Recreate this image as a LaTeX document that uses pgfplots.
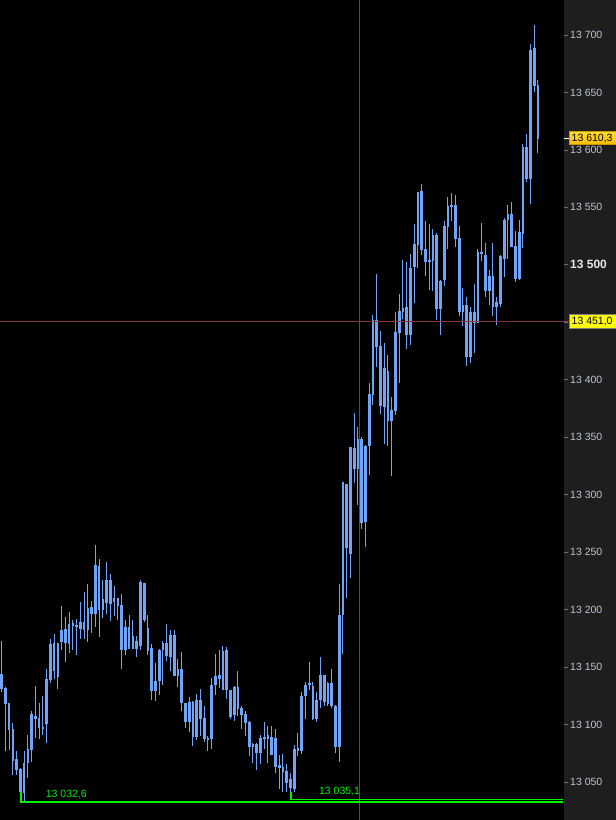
\documentclass[border=0pt]{standalone}
\usepackage{pgfplots}
\pgfplotsset{compat=1.18}
\usepackage{pgfplotstable}
\usepackage{fontspec}
\setmainfont{Liberation Sans}
\definecolor{candle}{RGB}{112,164,248}
\definecolor{panel}{RGB}{30,30,30}
\definecolor{labelgray}{RGB}{188,198,214}
\definecolor{boldlabel}{RGB}{228,232,240}
\definecolor{tickgray}{RGB}{110,110,110}
\definecolor{cross}{RGB}{140,55,55}
\definecolor{lowgreen}{RGB}{0,240,0}
\pgfplotstableread{
i h l bt bb
0 13172.8 13128.7 13144.1 13131.1
1 13133.1 13077.4 13131.1 13118.6
2 13118.9 13078.0 13118.6 13095.4
3 13101.5 13056.2 13095.4 13068.4
4 13077.4 13056.2 13069.3 13060.6
5 13062.3 13039.0 13060.6 13041.7
6 13077.1 13033.5 13065.8 13041.2
7 13091.0 13053.1 13078.6 13067.0
8 13111.6 13067.3 13108.7 13078.6
9 13134.0 13088.4 13107.3 13105.0
10 13118.9 13087.6 13105.0 13097.4
11 13125.0 13091.3 13097.7 13096.3
12 13148.2 13084.1 13138.9 13100.6
13 13174.6 13136.6 13170.2 13138.9
14 13179.2 13140.1 13170.8 13147.0
15 13171.4 13131.1 13170.8 13141.5
16 13203.3 13164.7 13181.8 13172.2
17 13193.4 13154.0 13183.0 13171.4
18 13198.1 13162.4 13187.0 13170.8
19 13191.1 13165.0 13187.6 13186.5
20 13192.0 13160.6 13185.9 13185.3
21 13207.0 13174.6 13189.4 13184.1
22 13215.7 13174.6 13188.8 13182.4
23 13222.7 13172.2 13201.2 13182.4
24 13207.6 13179.5 13201.5 13196.3
25 13256.3 13185.3 13238.1 13196.6
26 13244.2 13176.6 13238.1 13199.8
27 13226.2 13193.1 13209.1 13200.4
28 13241.3 13196.3 13225.6 13206.2
29 13231.4 13190.5 13225.3 13205.6
30 13220.4 13194.6 13209.9 13207.0
31 13209.7 13191.1 13209.9 13203.3
32 13213.7 13148.8 13203.9 13165.0
33 13191.1 13160.9 13184.7 13165.6
34 13195.4 13165.6 13184.7 13166.4
35 13191.1 13166.4 13176.6 13166.4
36 13177.2 13158.6 13172.2 13166.4
37 13225.9 13165.0 13223.6 13169.0
38 13223.6 13189.6 13223.0 13191.7
39 13195.5 13160.6 13183.9 13164.4
40 13170.2 13121.5 13166.5 13129.6
41 13154.0 13120.9 13137.4 13129.6
42 13165.9 13125.8 13164.4 13138.3
43 13172.8 13134.6 13170.2 13165.0
44 13187.6 13155.7 13170.2 13159.8
45 13182.4 13147.0 13177.2 13159.2
46 13182.4 13141.8 13177.2 13142.4
47 13157.2 13133.1 13147.6 13142.4
48 13163.3 13112.2 13148.2 13119.2
49 13118.6 13096.8 13118.6 13102.7
50 13123.8 13094.0 13119.2 13102.7
51 13120.1 13081.8 13119.2 13089.6
52 13126.7 13086.7 13120.9 13089.6
53 13131.1 13089.6 13120.9 13105.3
54 13116.3 13085.3 13105.3 13088.2
55 13090.2 13077.4 13087.6 13086.7
56 13140.6 13078.9 13134.3 13087.6
57 13161.5 13125.9 13141.8 13134.6
58 13165.0 13131.7 13142.4 13140.4
59 13168.5 13130.8 13163.6 13130.8
60 13167.3 13122.1 13164.4 13130.2
61 13129.6 13104.7 13129.3 13107.0
62 13133.1 13103.5 13132.2 13108.5
63 13147.0 13107.0 13132.2 13114.2
64 13116.3 13096.0 13114.2 13108.5
65 13112.2 13090.5 13109.0 13101.8
66 13103.5 13072.8 13101.8 13080.9
67 13084.4 13067.0 13082.4 13080.9
68 13083.8 13060.6 13082.9 13075.7
69 13091.0 13065.5 13087.6 13075.7
70 13102.1 13078.9 13088.7 13087.6
71 13099.2 13066.4 13090.2 13087.6
72 13098.9 13073.7 13089.0 13073.7
73 13096.3 13058.3 13088.2 13063.5
74 13073.7 13043.8 13064.1 13062.9
75 13074.5 13041.8 13062.9 13058.9
76 13065.8 13041.8 13058.9 13049.6
77 13058.0 13035.1 13052.0 13045.0
78 13082.4 13041.7 13078.6 13044.7
79 13093.0 13072.5 13079.5 13077.9
80 13128.5 13074.0 13124.7 13077.8
81 13137.0 13105.0 13134.4 13125.4
82 13154.6 13130.1 13136.1 13134.7
83 13137.1 13104.0 13133.6 13105.7
84 13128.4 13102.2 13121.4 13105.7
85 13159.1 13114.4 13142.4 13121.4
86 13143.1 13116.2 13142.4 13119.7
87 13137.1 13116.2 13136.1 13117.9
88 13148.6 13114.4 13135.4 13116.2
89 13116.9 13075.3 13116.2 13081.2
90 13222.0 13067.2 13194.8 13081.2
91 13310.8 13161.6 13310.8 13195.5
92 13309.4 13210.5 13309.4 13254.2
93 13340.8 13228.0 13340.8 13248.9
94 13371.2 13310.1 13340.8 13323.3
95 13359.0 13290.8 13347.8 13323.3
96 13350.3 13269.9 13347.8 13275.8
97 13343.3 13254.2 13342.2 13276.9
98 13397.4 13317.1 13386.9 13343.3
99 13456.8 13378.2 13451.6 13386.9
100 13491.8 13411.4 13451.6 13428.9
101 13442.8 13370.2 13428.9 13377.2
102 13432.4 13344.0 13409.7 13376.5
103 13421.2 13342.2 13407.2 13364.2
104 13385.2 13316.4 13373.0 13364.2
105 13458.6 13369.5 13441.1 13373.7
106 13474.3 13397.4 13459.6 13441.1
107 13504.0 13453.3 13462.1 13459.6
108 13502.2 13427.1 13463.1 13439.3
109 13509.2 13430.6 13497.0 13439.3
110 13535.4 13466.6 13518.0 13498.7
111 13563.8 13497.1 13563.2 13517.3
112 13570.4 13508.6 13564.3 13513.6
113 13538.2 13490.4 13513.6 13502.9
114 13535.6 13478.2 13503.7 13502.9
115 13531.0 13477.6 13526.0 13504.3
116 13527.5 13452.1 13526.0 13462.2
117 13486.9 13439.1 13486.0 13462.2
118 13538.2 13481.7 13533.3 13486.9
119 13559.4 13513.6 13551.3 13533.3
120 13562.9 13538.2 13552.1 13551.3
121 13560.9 13515.9 13552.1 13522.6
122 13533.9 13455.6 13522.6 13459.3
123 13480.2 13446.9 13465.1 13459.3
124 13472.4 13411.5 13465.1 13420.2
125 13463.7 13415.0 13458.5 13420.2
126 13483.4 13423.7 13458.5 13449.8
127 13513.6 13449.2 13510.7 13449.8
128 13536.8 13503.7 13510.7 13510.1
129 13519.4 13471.8 13508.7 13477.6
130 13495.6 13465.2 13489.8 13477.6
131 13519.4 13455.6 13489.8 13463.7
132 13472.4 13447.8 13467.2 13463.7
133 13508.7 13463.7 13507.2 13466.0
134 13540.6 13489.8 13539.1 13505.8
135 13552.1 13504.9 13543.5 13539.1
136 13555.0 13515.9 13543.5 13515.9
137 13529.8 13485.4 13515.9 13488.4
138 13539.1 13486.9 13528.1 13488.4
139 13605.2 13514.5 13602.0 13527.5
140 13613.9 13572.2 13602.0 13575.4
141 13692.2 13553.0 13687.0 13575.4
142 13708.7 13650.7 13688.4 13656.5
143 13660.9 13597.7 13655.7 13610.3
}\candles
\begin{document}
\begin{tikzpicture}[x=1pt,y=1pt]
\useasboundingbox (0,0) rectangle (616,820);
\fill[black] (0,0) rectangle (564,820);
\fill[panel] (564,0) rectangle (616,820);
\begin{axis}[
  at={(0,0)}, anchor=south west,
  width=563pt, height=820pt, scale only axis,
  xmin=-0.453, xmax=149.68,
  ymin=13016.93, ymax=13730.46,
  hide x axis,
  axis y line*=right,
  y axis line style={draw=black, line width=1pt},
  ytick={13050,13100,13150,13200,13250,13300,13350,13400,13450,13500,13550,13600,13650,13700},
  yticklabels={13 050,13 100,13 150,13 200,13 250,13 300,13 350,13 400,{},{\fontsize{12}{14}\selectfont\bfseries\color{boldlabel}13 500},13 550,13 600,13 650,13 700},
  tick align=outside,
  major tick length=5pt,
  ytick style={draw=tickgray, line width=0.8pt},
  yticklabel style={font=\fontsize{10.5}{12}\selectfont, text=labelgray, anchor=west, inner sep=0pt, xshift=2pt},
]
\addplot[draw=none, mark=none, forget plot,
  error bars/.cd, y dir=both, y explicit, error mark=none,
  error bar style={draw=candle, line width=1pt}]
  table[x=i, y expr={(\thisrow{h}+\thisrow{l})/2}, y error expr={(\thisrow{h}-\thisrow{l})/2}] {\candles};
\addplot[draw=none, mark=none, forget plot,
  error bars/.cd, y dir=both, y explicit, error mark=none,
  error bar style={draw=candle, line width=2.6pt}]
  table[x=i, y expr={(\thisrow{bt}+\thisrow{bb})/2}, y error expr={(\thisrow{bt}-\thisrow{bb})/2+0.4}] {\candles};
\draw[cross, line width=1pt] (axis cs:95.36,13016.93) -- (axis cs:95.36,13730.46);
\draw[lowgreen, line width=1.2pt] (axis cs:5.15,13041.6) -- (axis cs:5.15,13032.6) -- (axis cs:149.68,13032.6);
\draw[lowgreen, line width=1.2pt] (axis cs:77.13,13041.6) -- (axis cs:77.13,13035.1) -- (axis cs:149.68,13035.1);
\node[anchor=base west, inner sep=0pt, text=lowgreen, font=\fontsize{10.5}{12}\selectfont] at (axis cs:11.73,13036.3) {13 032,6};
\node[anchor=base west, inner sep=0pt, text=lowgreen, font=\fontsize{10.5}{12}\selectfont] at (axis cs:84.6,13039.4) {13 035,1};
\coordinate (p1) at (axis cs:0,13610.3);
\coordinate (p2) at (axis cs:0,13451);
\end{axis}
\draw[cross, line width=1pt] (0,0 |- p2) -- (569,0 |- p2);
\draw[white, line width=0.8pt] (564,0 |- p1) -- (569,0 |- p1);
\path[draw={rgb,255:red,200;green,150;blue,0}, top color={rgb,255:red,255;green,222;blue,50}, bottom color={rgb,255:red,248;green,186;blue,0}] (569.3,0 |- p1) ++(0,-6.6) rectangle ++(46.7,13.2);
\node[anchor=west, inner sep=0pt, text=black, font=\fontsize{10.5}{12}\selectfont] at (571.5,0 |- p1) {13 610,3};
\path[draw={rgb,255:red,130;green,130;blue,110}, fill={rgb,255:red,255;green,255;blue,0}] (569.3,0 |- p2) ++(0,-6.8) rectangle ++(46.7,13.6);
\node[anchor=west, inner sep=0pt, text=black, font=\fontsize{10.5}{12}\selectfont] at (571.5,0 |- p2) {13 451,0};
\end{tikzpicture}
\end{document}
